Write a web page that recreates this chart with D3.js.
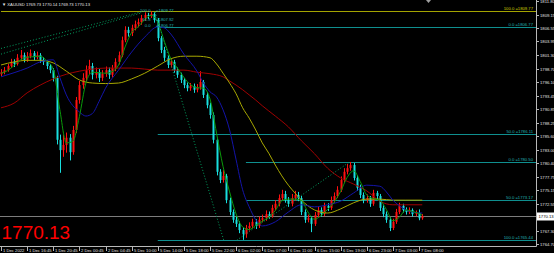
<!DOCTYPE html>
<html><head><meta charset="utf-8">
<script src="https://cdn.jsdelivr.net/npm/d3@7"></script>
<style>
html,body{margin:0;padding:0;background:#000;overflow:hidden}
svg{display:block}
text{font-family:"Liberation Sans",Arial,sans-serif}
</style></head><body>
<svg id="c" width="554" height="253"></svg>
<script>
// ---------- data ----------
const symbol = "XAUUSD";
const headerValues = ["1769.73","1770.14","1769.73","1770.13"];
const lastPrice = 1770.13;
const timeLabels = ["1 Dec 2022","1 Dec 16:45","1 Dec 20:45","2 Dec 00:45","2 Dec 04:45","5 Dec 10:00","5 Dec 14:00","5 Dec 18:00","5 Dec 22:00","6 Dec 02:00","6 Dec 07:00","6 Dec 11:00","6 Dec 15:00","6 Dec 19:00","6 Dec 23:00","7 Dec 03:00","7 Dec 08:00"];
const timeLabelIdx = [0,8,16,24,32,40,48,56,64,72,80,88,96,104,112,120,128];
const priceTicks = [1811.80,1809.15,1806.55,1803.95,1801.30,1798.70,1796.10,1793.45,1790.85,1788.25,1785.60,1783.00,1780.40,1777.75,1775.15,1772.55,1769.90,1767.30,1764.70];

const opens = [1797.6,1798.0,1798.4,1799.2,1800.0,1799.6,1800.8,1801.3,1800.4,1801.1,
1801.7,1800.9,1801.3,1800.4,1800.0,1799.2,1798.4,1796.9,1784.9,1782.9,
1783.9,1785.3,1782.5,1786.8,1792.6,1795.5,1796.9,1798.4,1799.2,1797.5,
1798.0,1796.9,1797.7,1798.4,1797.5,1798.8,1800.0,1801.3,1804.2,1806.2,
1805.6,1806.6,1807.3,1807.7,1808.5,1809.1,1808.9,1809.3,1808.1,1804.6,
1802.3,1800.8,1799.4,1800.0,1798.4,1797.5,1796.5,1795.5,1794.9,1795.3,
1794.6,1795.1,1796.1,1793.6,1791.6,1789.7,1784.9,1778.7,1777.1,1777.9,
1773.2,1770.9,1769.4,1768.6,1767.4,1766.6,1767.8,1768.2,1769.0,1768.2,
1769.4,1769.7,1770.5,1770.1,1771.7,1772.5,1773.6,1774.4,1773.2,1772.5,
1773.6,1774.2,1773.6,1770.9,1769.4,1769.7,1768.6,1770.3,1771.3,1770.5,
1772.1,1771.7,1773.2,1774.0,1775.2,1777.1,1778.7,1779.4,1780.0,1777.5,
1775.6,1774.2,1773.2,1773.6,1772.5,1774.6,1774.0,1771.7,1770.5,1769.4,
1767.8,1769.0,1770.9,1772.1,1771.3,1770.9,1771.3,1770.5,1770.7,1769.7];
const highs = [1798.6,1799.0,1799.6,1800.6,1800.5,1801.5,1802.3,1801.8,1801.9,1802.4,
1802.1,1802.0,1801.7,1800.9,1800.3,1799.6,1798.8,1797.3,1785.9,1785.8,
1786.3,1786.0,1787.6,1793.2,1796.3,1797.8,1799.3,1800.4,1799.8,1798.9,
1798.6,1798.4,1799.1,1798.9,1799.4,1800.7,1802.0,1804.9,1806.9,1806.8,
1807.2,1808.0,1808.4,1809.1,1809.6,1809.5,1809.77,1809.6,1808.5,1805.0,
1802.9,1801.2,1800.6,1800.4,1798.9,1797.9,1796.9,1796.0,1795.9,1795.8,
1795.7,1798.2,1796.5,1794.1,1792.1,1790.2,1785.3,1779.2,1779.0,1778.3,
1773.7,1771.4,1770.0,1769.1,1767.9,1768.4,1768.9,1769.6,1769.5,1770.0,
1770.4,1771.2,1771.0,1772.3,1773.2,1774.3,1775.2,1775.0,1773.8,1774.4,
1775.0,1774.8,1774.0,1771.4,1770.4,1770.1,1770.9,1771.9,1771.8,1772.7,
1772.6,1773.9,1774.7,1775.9,1777.8,1779.4,1780.2,1780.6,1780.4,1778.0,
1776.2,1774.7,1774.3,1774.0,1775.2,1775.0,1774.4,1772.2,1771.0,1769.9,
1769.6,1771.5,1772.7,1772.5,1771.8,1771.8,1771.6,1771.2,1771.4,1770.5];
const lows = [1797.2,1797.6,1798.1,1798.9,1799.0,1799.3,1800.4,1799.9,1800.0,1800.7,
1800.3,1800.5,1799.8,1799.4,1798.6,1797.8,1796.2,1784.0,1778.5,1781.6,
1782.4,1780.9,1782.0,1786.2,1791.9,1794.8,1796.2,1797.6,1796.6,1796.8,
1796.1,1796.3,1797.1,1796.7,1797.0,1798.2,1799.5,1800.9,1803.8,1804.9,
1805.0,1806.1,1806.7,1807.2,1808.0,1808.3,1808.5,1807.6,1804.0,1801.7,
1800.1,1798.8,1798.9,1797.9,1796.9,1795.9,1794.9,1794.3,1794.4,1794.0,
1794.1,1794.6,1793.0,1791.0,1789.0,1784.2,1778.0,1776.5,1776.6,1772.6,
1770.3,1768.8,1768.0,1766.8,1765.5,1765.9,1767.3,1767.7,1767.6,1767.8,
1768.9,1769.2,1769.6,1769.8,1771.2,1772.0,1773.1,1772.7,1771.9,1772.0,
1773.1,1773.0,1770.3,1768.8,1768.9,1767.0,1768.2,1769.9,1770.0,1770.1,
1771.1,1771.3,1772.7,1773.6,1774.8,1776.6,1778.2,1778.9,1777.0,1775.0,
1773.6,1772.6,1772.7,1771.9,1772.1,1773.4,1771.1,1769.9,1768.8,1767.2,
1767.4,1768.6,1770.5,1770.8,1770.4,1770.5,1770.0,1770.1,1769.3,1769.4];
const closes = [1798.0,1798.4,1799.2,1800.0,1799.6,1800.8,1801.3,1800.4,1801.1,1801.7,
1800.9,1801.3,1800.4,1800.0,1799.2,1798.4,1796.9,1784.9,1782.9,1783.9,
1785.3,1782.5,1786.8,1792.6,1795.5,1796.9,1798.4,1799.2,1797.5,1798.0,
1796.9,1797.7,1798.4,1797.5,1798.8,1800.0,1801.3,1804.2,1806.2,1805.6,
1806.6,1807.3,1807.7,1808.5,1809.1,1808.9,1809.3,1808.1,1804.6,1802.3,
1800.8,1799.4,1800.0,1798.4,1797.5,1796.5,1795.5,1794.9,1795.3,1794.6,
1795.1,1796.1,1793.6,1791.6,1789.7,1784.9,1778.7,1777.1,1777.9,1773.2,
1770.9,1769.4,1768.6,1767.4,1766.6,1767.8,1768.2,1769.0,1768.2,1769.4,
1769.7,1770.5,1770.1,1771.7,1772.5,1773.6,1774.4,1773.2,1772.5,1773.6,
1774.2,1773.6,1770.9,1769.4,1769.7,1768.6,1770.3,1771.3,1770.5,1772.1,
1771.7,1773.2,1774.0,1775.2,1777.1,1778.7,1779.4,1780.0,1777.5,1775.6,
1774.2,1773.2,1773.6,1772.5,1774.6,1774.0,1771.7,1770.5,1769.4,1767.8,
1769.0,1770.9,1772.1,1771.3,1770.9,1771.3,1770.5,1770.7,1769.7,1770.13];

// moving averages: [bar index, price]
const maGreen = [[0,1797.8],[2,1798.3],[4,1799.3],[6,1800.4],[8,1800.9],[10,1801.0],[12,1801.1],[14,1800.2],[16,1798.6],[18,1790.8],[20,1784.3],[22,1784.6],[24,1789.4],[26,1795.9],[28,1798.0],[30,1797.9],[32,1797.8],[34,1798.1],[36,1799.4],[38,1802.9],[40,1805.7],[42,1806.8],[44,1808.2],[46,1809.0],[48,1807.7],[50,1804.0],[52,1800.6],[54,1798.8],[56,1797.0],[58,1795.6],[60,1795.0],[62,1794.9],[64,1792.8],[66,1786.2],[68,1779.7],[70,1774.8],[72,1770.5],[74,1768.0],[76,1767.5],[78,1768.3],[80,1769.1],[82,1769.9],[84,1771.2],[86,1773.1],[88,1773.4],[90,1773.4],[92,1773.1],[94,1770.9],[96,1769.5],[98,1770.2],[100,1771.4],[102,1772.8],[104,1774.9],[106,1777.6],[108,1778.9],[110,1776.8],[112,1774.2],[114,1773.5],[116,1773.2],[118,1771.4],[120,1769.2],[122,1769.9],[124,1771.3],[126,1771.0],[128,1770.6],[129,1770.3]];
const maBlue = [[0,1797.1],[4,1797.9],[8,1798.8],[12,1800.0],[16,1800.4],[18,1797.0],[20,1793.6],[24,1790.3],[26,1789.5],[28,1790.0],[30,1792.3],[32,1794.9],[36,1798.4],[40,1801.9],[44,1804.8],[48,1806.8],[50,1806.6],[52,1805.4],[56,1801.5],[60,1798.2],[62,1795.9],[64,1794.2],[66,1793.2],[68,1790.7],[70,1786.8],[72,1781.0],[74,1775.2],[76,1771.9],[78,1769.4],[80,1768.2],[84,1769.0],[88,1770.9],[92,1772.3],[96,1771.9],[100,1772.3],[104,1773.0],[108,1774.6],[112,1776.1],[116,1775.9],[118,1774.8],[120,1773.2],[122,1772.1],[124,1771.3],[126,1770.9],[129,1770.7]];
const maYellow = [[0,1799.4],[4,1800.0],[8,1800.3],[12,1800.3],[16,1799.8],[20,1798.2],[24,1796.5],[28,1795.9],[32,1795.8],[36,1795.9],[40,1796.7],[44,1797.8],[48,1799.2],[52,1800.6],[56,1801.1],[60,1801.1],[64,1800.8],[66,1799.6],[68,1797.8],[70,1795.9],[72,1793.8],[74,1791.1],[76,1789.1],[78,1786.8],[80,1784.3],[82,1782.3],[84,1780.0],[86,1777.9],[88,1776.1],[90,1774.6],[92,1773.2],[96,1771.3],[100,1770.7],[104,1771.5],[108,1772.7],[112,1773.4],[116,1773.4],[120,1773.2],[124,1773.2],[129,1773.2]];
const maRed = [[0,1791.1],[4,1792.0],[8,1794.0],[12,1795.5],[16,1796.7],[20,1797.6],[24,1798.2],[28,1798.6],[32,1798.8],[36,1798.8],[40,1798.8],[44,1798.6],[48,1798.4],[52,1798.4],[56,1798.4],[60,1798.0],[64,1797.7],[68,1797.1],[70,1796.3],[72,1795.5],[74,1794.6],[76,1793.6],[78,1792.6],[80,1791.5],[84,1789.5],[88,1787.4],[92,1784.7],[96,1782.2],[100,1779.4],[104,1777.5],[108,1776.3],[112,1775.0],[116,1773.0],[120,1772.3],[124,1772.3],[129,1772.3]];

// Fibonacci levels
const fibNames  = ["100.0","0.0","50.0","100.0","0.0","50.0"];
const fibPrices = [1809.77,1806.77,1786.11,1765.44,1780.50,1773.17];
const fibStart  = [0,48,48,48,75,75];
const peakFibNames  = ["100.0","61.8","0.0"];
const peakFibPrices = [1809.77,1807.92,1806.77];
// trend (fib) lines: [[bar, price],[bar, price]]
const trendLines = [[[0,1802.6],[43,1809.7]],[[0,1801.5],[43,1809.5]],[[47.2,1809.7],[68.2,1765.44]],[[72.2,1765.44],[106.5,1780.5]]];

// ---------- drawing ----------
const W = 554, H = 253, plotR = 536, axisY = 246;
const x = d3.scaleLinear().domain([0,128]).range([1,419]);
const y = d3.scaleLinear().domain([1764.70,1811.80]).range([244,1]);
const svg = d3.select("#c");
svg.append("rect").attr("width",W).attr("height",H).attr("fill","#000");
svg.append("defs").append("clipPath").attr("id","clip")
  .append("rect").attr("x",0).attr("y",0).attr("width",plotR).attr("height",axisY);
const plot = svg.append("g").attr("clip-path","url(#clip)");

const FS = 4.2;
const teal = "#0f8f8f", tealText = "#22b4b4", olive = "#a4a400", oliveText = "#d2d200";

// fib level lines
fibPrices.forEach((p,k)=>{
  const yy = Math.round(y(p))+0.5;
  plot.append("line").attr("x1",x(fibStart[k])).attr("x2",plotR).attr("y1",yy).attr("y2",yy)
    .attr("stroke", k===0?olive:teal).attr("stroke-width",1);
  svg.append("text").attr("x",533).attr("y",yy-1.2).attr("text-anchor","end")
    .attr("font-size",FS).attr("fill",k===0?oliveText:tealText)
    .text(fibNames[k]+" ="+p.toFixed(2));
});
peakFibPrices.forEach((p,k)=>{
  const yy = y(p);
  svg.append("text").attr("x",x(45.8)).attr("y",yy+0.2).attr("text-anchor","end")
    .attr("font-size",FS).attr("fill",tealText).text(peakFibNames[k]);
  svg.append("text").attr("x",x(47.5)).attr("y",yy+0.2)
    .attr("font-size",FS).attr("fill",tealText).text("="+p.toFixed(2));
});

// current price line
const py = Math.round(y(lastPrice))+0.5;
plot.append("line").attr("x1",0).attr("x2",plotR).attr("y1",py).attr("y2",py)
  .attr("stroke","#7c7c7c").attr("stroke-width",1);

// candles
const bull = "#ff1010", bear = "#18dede";
const candles = closes.map((c,i)=>({i,o:opens[i],h:highs[i],l:lows[i],c}));
plot.append("g").selectAll("line").data(candles).join("line")
  .attr("x1",d=>Math.round(x(d.i))+0.5).attr("x2",d=>Math.round(x(d.i))+0.5)
  .attr("y1",d=>y(d.h)).attr("y2",d=>y(d.l))
  .attr("stroke",d=>d.c>=d.o?bull:bear).attr("stroke-width",1);
plot.append("g").selectAll("rect").data(candles).join("rect")
  .attr("x",d=>Math.round(x(d.i))-0.5).attr("width",2)
  .attr("y",d=>Math.min(y(d.o),y(d.c)))
  .attr("height",d=>Math.max(1,Math.abs(y(d.o)-y(d.c))))
  .attr("fill",d=>d.c>=d.o?bull:bear);

// moving averages
const line = d3.line().x(d=>x(d[0])).y(d=>y(d[1])).curve(d3.curveMonotoneX);
[[maRed,"#a00000"],[maYellow,"#a8a800"],[maBlue,"#1414a8"],[maGreen,"#0a9a0a"]].forEach(([data,col])=>{
  plot.append("path").attr("d",line(data)).attr("fill","none").attr("stroke",col).attr("stroke-width",1);
});

// dotted trend lines
trendLines.forEach(tl=>{
  plot.append("line").attr("x1",x(tl[0][0])).attr("y1",y(tl[0][1]))
    .attr("x2",x(tl[1][0])).attr("y2",y(tl[1][1]))
    .attr("stroke","#00a060").attr("stroke-width",1).attr("stroke-dasharray","1,2");
});

// axes
svg.append("line").attr("x1",plotR+0.5).attr("x2",plotR+0.5).attr("y1",0).attr("y2",axisY+0.5)
  .attr("stroke","#b8b8b8");
svg.append("line").attr("x1",0).attr("x2",plotR+0.5).attr("y1",axisY+0.5).attr("y2",axisY+0.5)
  .attr("stroke","#b8b8b8");
priceTicks.forEach(t=>{
  const yy = Math.round(y(t))+0.5;
  svg.append("line").attr("x1",plotR).attr("x2",plotR+3).attr("y1",yy).attr("y2",yy).attr("stroke","#b8b8b8");
  svg.append("text").attr("x",540).attr("y",yy+1.5).attr("font-size",FS).attr("fill","#e0e0e0").text(t.toFixed(2));
});
timeLabels.forEach((t,k)=>{
  const xx = Math.round(x(timeLabelIdx[k]))+0.5;
  svg.append("line").attr("x1",xx).attr("x2",xx).attr("y1",axisY).attr("y2",axisY+5).attr("stroke","#b8b8b8");
  svg.append("text").attr("x",xx+1.5).attr("y",252).attr("font-size",FS).attr("fill","#e0e0e0").text(t);
});

// current price box
svg.append("rect").attr("x",537).attr("y",py-4).attr("width",17).attr("height",8).attr("fill","#ffffff");
svg.append("text").attr("x",538.5).attr("y",py+1.6).attr("font-size",FS).attr("fill","#000").text(lastPrice.toFixed(2));

// header
svg.append("text").attr("x",2).attr("y",5.5).attr("font-size",FS).attr("fill","#e8e8e8")
  .text("\u25BC "+symbol+"  "+headerValues.join(" "));
// chart shift marker
svg.append("path").attr("d","M426,0 L431,0 L428.5,3 Z").attr("fill","#a0a0a0");

// big price
svg.append("text").attr("x",1.5).attr("y",239).attr("font-size",19).attr("fill","#ff0000")
  .text(lastPrice.toFixed(2));
</script>
</body></html>
